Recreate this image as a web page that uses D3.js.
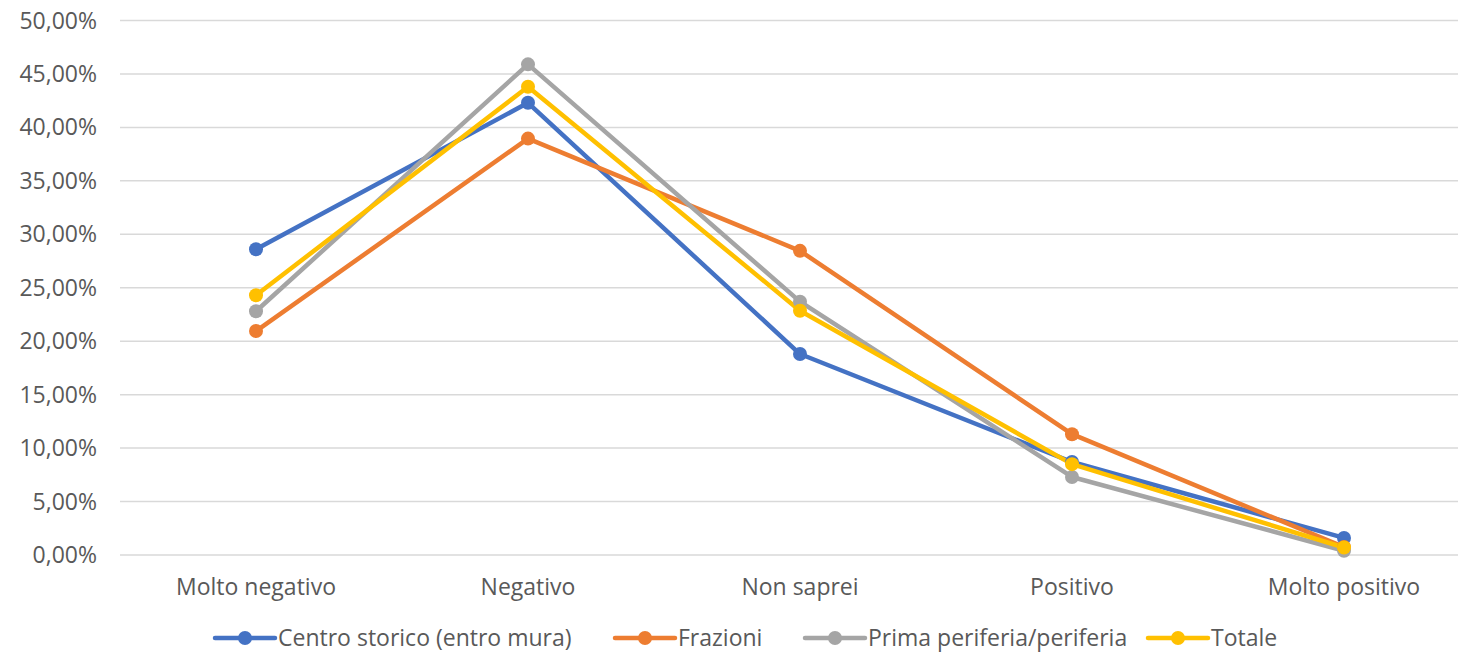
<!DOCTYPE html>
<html><head><meta charset="utf-8">
<script src="https://cdn.jsdelivr.net/npm/d3@7"></script>
<style>body{margin:0;background:#fff;font-family:"Open Sans",Lato,sans-serif;}</style>
</head><body><svg id="c" width="1458" height="653"></svg>
<script>
const categories = ["Molto negativo","Negativo","Non saprei","Positivo","Molto positivo"];
const seriesNames = ["Centro storico (entro mura)","Frazioni","Prima periferia/periferia","Totale"];
const seriesColors = ["#4472C4","#ED7D31","#A5A5A5","#FFC000"];
const centro = [28.6, 42.3, 18.8, 8.7, 1.6];
const frazioni = [20.95, 38.95, 28.45, 11.3, 0.75];
const periferia = [22.8, 45.9, 23.7, 7.3, 0.4];
const totale = [24.3, 43.8, 22.85, 8.5, 0.7];
const yTicks = [0,5,10,15,20,25,30,35,40,45,50];
const seriesValues = [centro, frazioni, periferia, totale];

const FS = 23;
const svg = d3.select("#c").attr("font-family","'Open Sans',Lato,sans-serif");
const x = d3.scaleBand().domain(categories).range([120,1480]);
const y = d3.scaleLinear().domain([0,50]).range([555,20.5]);
const fmt = v => v.toFixed(2).replace(".", ",") + "%";

svg.append("g").selectAll("line").data(yTicks).join("line")
  .attr("x1",120).attr("x2",1458)
  .attr("y1",d=>y(d)).attr("y2",d=>y(d))
  .attr("stroke","#d9d9d9").attr("stroke-width",1.5);

svg.append("g").selectAll("text").data(yTicks).join("text")
  .attr("x",97).attr("y",d=>y(d)).attr("dy","0.35em")
  .attr("text-anchor","end").attr("font-size",FS).attr("fill","#595959")
  .text(fmt);

svg.append("g").selectAll("text").data(categories).join("text")
  .attr("x",d=>x(d)+x.bandwidth()/2).attr("y",587).attr("dy","0.35em")
  .attr("text-anchor","middle").attr("font-size",FS).attr("fill","#595959")
  .text(d=>d);

const line = d3.line().x((d,i)=>x(categories[i])+x.bandwidth()/2).y(d=>y(d));
seriesValues.forEach((vals,si)=>{
  svg.append("path").attr("d",line(vals)).attr("fill","none")
    .attr("stroke",seriesColors[si]).attr("stroke-width",4.5).attr("stroke-linejoin","round");
});
seriesValues.forEach((vals,si)=>{
  svg.append("g").selectAll("circle").data(vals).join("circle")
    .attr("cx",(d,i)=>x(categories[i])+x.bandwidth()/2).attr("cy",d=>y(d))
    .attr("r",7).attr("fill",seriesColors[si]);
});

const legendX = [215, 615, 805, 1148];
const lg = svg.append("g");
seriesNames.forEach((n,i)=>{
  const g = lg.append("g").attr("transform",`translate(${legendX[i]},638)`);
  g.append("line").attr("x1",0).attr("x2",60).attr("stroke",seriesColors[i]).attr("stroke-width",4.5).attr("stroke-linecap","round");
  g.append("circle").attr("cx",30).attr("r",7).attr("fill",seriesColors[i]);
  g.append("text").attr("x",63).attr("dy","0.35em").attr("font-size",FS).attr("fill","#595959").text(n);
});
</script></body></html>
